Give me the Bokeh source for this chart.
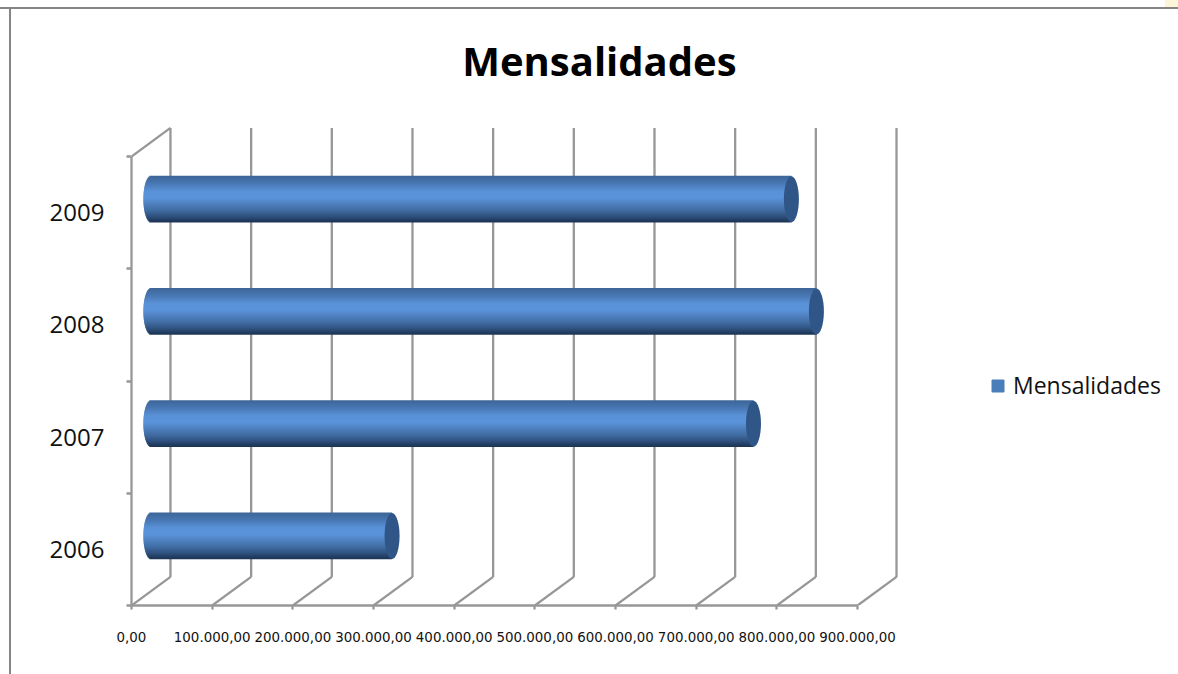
from bokeh.plotting import figure
from bokeh.models import Range1d, FixedTicker, Legend, LegendItem, Label
from bokeh.embed import file_html
from bokeh.resources import INLINE

years = ["2006", "2007", "2008", "2009"]
mensalidades = [299000, 747000, 825000, 794000]
x_ticks = [0, 100000, 200000, 300000, 400000, 500000, 600000, 700000, 800000, 900000]
x_tick_labels = ["0,00", "100.000,00", "200.000,00", "300.000,00", "400.000,00",
                 "500.000,00", "600.000,00", "700.000,00", "800.000,00", "900.000,00"]
series_name = "Mensalidades"

GRID = "#979797"
LW = 2.3
TXT = "#111111"
depth_x, depth_y = 48300, 0.255     # shift of the back wall in data units
bar_dx, bar_dy = 24000, 0.12        # bars stand half-way in the depth
bar_h = 0.41
cap = 9300                          # half width of the end ellipses

p = figure(width=1178, height=674, output_backend="svg", toolbar_location=None,
           x_range=Range1d(0, 1297860), y_range=Range1d(0, 5.3898),
           min_border_left=131, min_border_right=0, min_border_top=0, min_border_bottom=69,
           outline_line_color=None, background_fill_color=None, border_fill_color=None)
p.grid.visible = False

# chart frame lines and the pale corner behind the transparent canvas
g = "linear-gradient(#858585,#858585)"
y = "linear-gradient(#fdf5da,#fdf5da)"
p.styles = {"background": f"{g} 0 7px/100% 2px no-repeat, {g} 9px 7px/2px 100% no-repeat, "
                          f"{y} 1165px 0/13px 7px no-repeat, white"}

# axes
ax = p.xaxis[0]
ax.ticker = FixedTicker(ticks=x_ticks)
ax.major_label_overrides = {t: l for t, l in zip(x_ticks, x_tick_labels)}
ax.bounds = (0, 900000)
ax.axis_line_color = GRID
ax.axis_line_width = LW
ax.major_tick_line_color = GRID
ax.major_tick_line_width = LW
ax.major_tick_out = 4
ax.major_tick_in = 0
ax.minor_tick_line_color = None
ax.major_label_standoff = 22
ax.major_label_text_font = "DejaVu Sans"
ax.major_label_text_font_size = "13.4px"
ax.major_label_text_color = TXT

ay = p.yaxis[0]
n = len(years)
centres = [i + 0.5 for i in range(n)]
ay.ticker = FixedTicker(ticks=centres, minor_ticks=list(range(n + 1)))
ay.major_label_overrides = {c: v for c, v in zip(centres, years)}
ay.bounds = (0, n)
ay.axis_line_color = GRID
ay.axis_line_width = LW
ay.major_tick_line_color = None
ay.major_tick_out = 0
ay.major_tick_in = 0
ay.minor_tick_line_color = GRID
ay.minor_tick_line_width = LW
ay.minor_tick_out = 5
ay.minor_tick_in = 0
ay.major_label_standoff = 22
ay.major_label_text_font = "Open Sans"
ay.major_label_text_font_size = "24px"
ay.major_label_text_color = TXT

# back wall, floor and side wall
p.segment(x_ticks, [0] * len(x_ticks), [t + depth_x for t in x_ticks], [depth_y] * len(x_ticks),
          line_color=GRID, line_width=LW)
p.segment([t + depth_x for t in x_ticks], [depth_y] * len(x_ticks),
          [t + depth_x for t in x_ticks], [n + depth_y] * len(x_ticks),
          line_color=GRID, line_width=LW)
p.segment([0], [n], [depth_x], [n + depth_y], line_color=GRID, line_width=LW)

# cylinders: horizontal slices shaded from top to bottom, over an opaque base
stops = [(0.0, (62, 102, 152)), (0.14, (70, 116, 174)), (0.34, (90, 146, 216)), (0.48, (91, 147, 218)),
         (0.74, (66, 110, 165)), (0.9, (45, 78, 122)), (1.0, (28, 52, 84))]

def shade(u):
    for (a, ca), (b, cb) in zip(stops, stops[1:]):
        if u <= b:
            f = (u - a) / (b - a)
            return "#%02x%02x%02x" % tuple(round(x + (y - x) * f) for x, y in zip(ca, cb))
    return "#1c3454"

bar_y = [c + bar_dy for c in centres]
bar_end = [v + bar_dx for v in mensalidades]
p.hbar(y=bar_y, height=bar_h * 0.98, left=[bar_dx] * n, right=bar_end,
       fill_color="#4a7ebb", line_color=None)
slices = 46
for i in range(slices):
    u = (i + 0.5) / slices
    t = 2 * u - 1
    bulge = cap * (1 - t * t) ** 0.5
    ys = [v + bar_h / 2 - u * bar_h for v in bar_y]
    p.hbar(y=ys, height=bar_h / slices * 1.6, left=[bar_dx - bulge] * n, right=bar_end,
           fill_color=shade(u), line_color=None)

p.ellipse(x=bar_end, y=bar_y, width=2 * cap, height=bar_h, fill_color="#2f5686", line_color=None)

# legend
swatch = p.hbar(y=bar_y[:1], height=[0], left=[0], right=[0], fill_color="#4a7ebb", line_color="#4a7ebb")
legend = Legend(items=[LegendItem(label=series_name, renderers=[swatch])],
                location=(859, 204), border_line_color=None, background_fill_alpha=0,
                glyph_width=15, glyph_height=15, label_text_font="Open Sans",
                label_text_font_size="23px", label_text_color=TXT, margin=0, padding=0,
                label_standoff=8)
p.add_layout(legend, "center")

# title
p.add_layout(Label(x=580000, y=4.855, text=series_name, text_font="Open Sans", text_font_style="bold",
                   text_font_size="40px", text_color="#000000", text_align="center",
                   text_baseline="middle"))

open("out.html", "w").write(file_html(p, INLINE))
